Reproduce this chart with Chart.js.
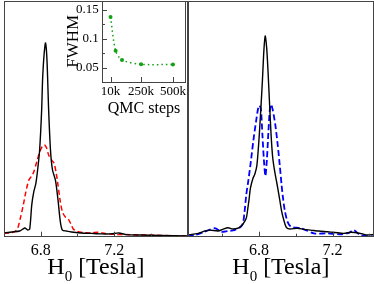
<!DOCTYPE html>
<html lang="en">
<head>
  <meta charset="UTF-8">
  <title>NMR line shapes</title>
  <style>
    body { margin: 0; background: #fff; }
    #wrap { position: relative; width: 374px; height: 284px; overflow: hidden; background: #fff; }
    canvas { position: absolute; }
    #left { left: 0; top: 0; }
    #right { left: 186px; top: 0; }
    #inset { left: 63px; top: 0; }
  </style>
</head>
<body>
  <div id="wrap">
    <canvas id="left" width="188" height="284"></canvas>
    <canvas id="right" width="188" height="284"></canvas>
    <canvas id="inset" width="125" height="118"></canvas>
  </div>

  <script src="https://cdn.jsdelivr.net/npm/chart.js"></script>
  <script>
    // left panel, black solid
    const leftBlackH = [6.600, 6.643, 6.686, 6.713, 6.729, 6.740, 6.751, 6.762, 6.773, 6.783, 6.794, 6.805, 6.810, 6.818, 6.826, 6.834, 6.843, 6.853, 6.864, 6.880, 6.894, 6.907, 6.918, 6.940, 6.967, 7.020, 7.074, 7.128, 7.182, 7.225, 7.263, 7.344, 7.452, 7.597];
    const leftBlackI = [1.6, 2.0, 2.4, 3.7, 2.8, 3.3, 13.4, 19.0, 22.4, 28.3, 36.8, 53.8, 66.5, 77.1, 82.2, 74.9, 53.8, 36.8, 28.3, 24.0, 15.6, 6.2, 2.8, 2.4, 2.0, 1.6, 1.4, 1.2, 1.2, 1.6, 0.9, 0.7, 0.5, 0.3];
    // left panel, red dashed
    const leftRedH = [6.600, 6.632, 6.659, 6.675, 6.689, 6.705, 6.719, 6.735, 6.751, 6.762, 6.778, 6.794, 6.810, 6.821, 6.832, 6.843, 6.859, 6.872, 6.883, 6.894, 6.905, 6.918, 6.934, 6.950, 6.964, 6.977, 6.999, 7.031, 7.074, 7.112, 7.150, 7.198, 7.263, 7.344, 7.398, 7.479, 7.597];
    const leftRedI = [1.4, 1.6, 2.2, 3.7, 7.9, 13.4, 19.0, 24.0, 25.8, 27.5, 31.7, 35.9, 38.5, 38.9, 37.6, 34.7, 32.5, 31.3, 27.5, 21.9, 15.6, 10.5, 8.4, 7.5, 5.4, 3.3, 2.2, 1.8, 1.6, 1.9, 1.4, 1.0, 0.9, 0.7, 0.7, 0.5, 0.3];
    // right panel, black solid
    const rightBlackH = [6.413, 6.470, 6.506, 6.533, 6.578, 6.603, 6.632, 6.657, 6.686, 6.700, 6.713, 6.731, 6.740, 6.746, 6.754, 6.768, 6.778, 6.789, 6.800, 6.810, 6.819, 6.827, 6.834, 6.842, 6.849, 6.858, 6.866, 6.875, 6.886, 6.900, 6.913, 6.924, 6.935, 6.947, 6.964, 7.009, 7.045, 7.081, 7.126, 7.171, 7.212, 7.261, 7.299, 7.333, 7.363, 7.387, 7.425];
    const rightBlackI = [0.7, 1.4, 2.4, 2.8, 2.4, 3.1, 3.8, 3.3, 3.6, 4.3, 5.3, 7.8, 12.2, 15.6, 20.7, 24.9, 26.6, 30.4, 41.0, 53.8, 66.5, 79.2, 85.2, 80.1, 70.7, 55.9, 43.1, 33.4, 27.5, 21.6, 15.6, 10.5, 7.1, 4.2, 3.3, 3.6, 3.1, 2.8, 2.4, 2.1, 1.8, 1.4, 1.9, 1.7, 1.2, 0.7, 1.0];
    // right panel, blue dashed
    const rightBlueH = [6.413, 6.452, 6.506, 6.560, 6.596, 6.630, 6.668, 6.700, 6.713, 6.722, 6.731, 6.743, 6.757, 6.770, 6.784, 6.795, 6.803, 6.811, 6.819, 6.827, 6.835, 6.843, 6.851, 6.859, 6.866, 6.875, 6.889, 6.902, 6.913, 6.923, 6.932, 6.940, 6.955, 6.974, 7.027, 7.099, 7.171, 7.243, 7.288, 7.315, 7.351, 7.425];
    const rightBlueI = [0.1, 0.7, 2.1, 3.6, 2.1, 2.4, 2.8, 4.1, 5.7, 10.6, 17.7, 24.1, 32.5, 41.0, 48.7, 54.2, 55.7, 53.8, 43.1, 32.5, 25.7, 32.5, 44.0, 53.8, 56.1, 53.8, 47.4, 38.9, 30.4, 21.9, 15.6, 11.3, 6.4, 4.2, 3.6, 1.4, 1.4, 1.0, 1.6, 2.8, 0.7, 0.1];

    // inset: FWHM vs QMC steps
    const qmcSteps = [10000, 50000, 100000, 250000, 500000];
    const fwhm = [0.138, 0.0795, 0.0635, 0.056, 0.0555];

    // tick values and labels
    const fieldTicks = [6.6, 6.8, 7.0, 7.2, 7.4];
    const fieldLabels = ['6.8', '7.2'];
    const stepTicks = [10000, 250000, 500000];
    const stepLabels = ['10k', '250k', '500k'];
    const fwhmTicks = [0.05, 0.075, 0.1, 0.125, 0.15];
    const fwhmLabels = ['0.05', '', '0.1', '', '0.15'];

    const serif = "'Liberation Serif', 'Times New Roman', serif";

    const pts = (xs, ys) => xs.map((x, k) => ({ x: x, y: ys[k] }));

    // box around the plot area + ticks pointing inward
    const framePlugin = {
      id: 'frame',
      afterDraw(chart) {
        const ctx = chart.ctx, a = chart.chartArea;
        ctx.save();
        ctx.strokeStyle = '#444';
        ctx.lineWidth = 1;
        ctx.strokeRect(Math.round(a.left) + 0.5, Math.round(a.top) + 0.5,
          Math.round(a.right - a.left) - 1, Math.round(a.bottom - a.top) - 1);
        const xs = chart.scales.x, ys = chart.scales.y;
        ctx.beginPath();
        xs.ticks.forEach(t => {
          const p = Math.round(xs.getPixelForValue(t.value)) + 0.5;
          const len = t.label && t.label.trim() ? 5 : 3;
          ctx.moveTo(p, a.bottom);
          ctx.lineTo(p, a.bottom - len);
        });
        ys.ticks.forEach(t => {
          const p = Math.round(ys.getPixelForValue(t.value)) + 0.5;
          const len = t.label && t.label.trim() ? 5 : 3;
          ctx.moveTo(a.left, p);
          ctx.lineTo(a.left + len, p);
        });
        ctx.stroke();
        ctx.restore();
      }
    };

    // x title with a subscript: H_0 [Tesla]
    const fieldTitle = {
      id: 'fieldTitle',
      afterDraw(chart) {
        const ctx = chart.ctx, a = chart.chartArea;
        const mid = (a.left + Math.min(a.right, chart.width)) / 2;
        ctx.save();
        ctx.fillStyle = '#000';
        ctx.textBaseline = 'alphabetic';
        const big = '24px ' + serif, small = '15px ' + serif;
        ctx.font = big;
        const wH = ctx.measureText('H').width;
        const wRest = ctx.measureText(' [Tesla]').width;
        ctx.font = small;
        const w0 = ctx.measureText('0').width;
        let x = mid - (wH + w0 + wRest) / 2;
        const y = 274;
        ctx.font = big;
        ctx.fillText('H', x, y);
        ctx.font = small;
        ctx.fillText('0', x + wH, y + 7);
        ctx.font = big;
        ctx.fillText(' [Tesla]', x + wH + w0, y);
        ctx.restore();
      }
    };

    function panel(id, xmin, xmax, yWidth, padRight, datasets) {
      return new Chart(document.getElementById(id), {
        type: 'line',
        data: { datasets: datasets },
        options: {
          responsive: false,
          animation: false,
          devicePixelRatio: 1,
          layout: { autoPadding: false, padding: { left: 0, top: 1, right: padRight, bottom: 0 } },
          elements: { point: { radius: 0 }, line: { tension: 0.25 } },
          plugins: { legend: { display: false }, tooltip: { enabled: false } },
          scales: {
            x: {
              type: 'linear',
              min: xmin,
              max: xmax,
              afterBuildTicks: s => { s.ticks = fieldTicks.map(v => ({ value: v })); },
              afterFit: s => { s.height = 47.3; },
              grid: { display: false, drawTicks: false },
              border: { display: false },
              ticks: {
                autoSkip: false,
                maxRotation: 0,
                padding: 4,
                color: '#000',
                font: { family: serif, size: 16 },
                callback: v => fieldLabels.includes(v.toFixed(1)) ? v.toFixed(1) : ''
              }
            },
            y: {
              min: 0,
              max: 100,
              afterBuildTicks: s => { s.ticks = []; },
              afterFit: s => { s.width = yWidth; },
              grid: { display: false, drawTicks: false },
              border: { display: false },
              ticks: { display: false }
            }
          }
        },
        plugins: [framePlugin, fieldTitle]
      });
    }

    panel('left', 6.6, 7.6, 2, 0.3, [
      { data: pts(leftBlackH, leftBlackI), borderColor: '#000', borderWidth: 1.4 },
      { data: pts(leftRedH, leftRedI), borderColor: '#ff0000', borderWidth: 1.5, borderDash: [5, 3] }
    ]);

    // right frame edge sits just past the picture edge
    panel('right', 6.413, 7.425, 1.7, -1.5, [
      { data: pts(rightBlackH, rightBlackI), borderColor: '#000', borderWidth: 1.4 },
      { data: pts(rightBlueH, rightBlueI), borderColor: '#0000ff', borderWidth: 1.8, borderDash: [6, 3] }
    ]);

    new Chart(document.getElementById('inset'), {
      type: 'line',
      data: {
        datasets: [{
          data: pts(qmcSteps, fwhm),
          borderColor: '#14a014',
          backgroundColor: '#14a014',
          borderWidth: 1.5,
          borderDash: [1.5, 3],
          pointRadius: 2,
          pointBorderWidth: 0,
          tension: 0.3
        }]
      },
      options: {
        responsive: false,
        animation: false,
        devicePixelRatio: 1,
        layout: { autoPadding: false, padding: { left: 0, top: 0.5, right: 0.3, bottom: 0 } },
        plugins: { legend: { display: false }, tooltip: { enabled: false } },
        scales: {
          x: {
            type: 'linear',
            min: -57000,
            max: 603000,
            afterBuildTicks: s => { s.ticks = stepTicks.map(v => ({ value: v })); },
            afterFit: s => { s.height = 36; },
            grid: { display: false, drawTicks: false },
            border: { display: false },
            ticks: {
              autoSkip: false,
              maxRotation: 0,
              padding: 2,
              color: '#000',
              font: { family: serif, size: 13 },
              callback: (v, i) => stepLabels[i]
            },
            title: { display: true, text: 'QMC steps', color: '#000', padding: 0, font: { family: serif, size: 16 } }
          },
          y: {
            min: 0.0252,
            max: 0.1665,
            afterBuildTicks: s => { s.ticks = fwhmTicks.map(v => ({ value: v })); },
            afterFit: s => { s.width = 39; },
            grid: { display: false, drawTicks: false },
            border: { display: false },
            ticks: {
              autoSkip: false,
              padding: 0,
              color: '#000',
              font: { family: serif, size: 13, lineHeight: 0.01 },
              callback: (v, i) => fwhmLabels[i] ? fwhmLabels[i] + ' ' : ''
            },
            title: { display: true, text: 'FWHM', color: '#000', padding: 0, font: { family: serif, size: 17 } }
          }
        }
      },
      plugins: [framePlugin]
    });
  </script>
</body>
</html>
